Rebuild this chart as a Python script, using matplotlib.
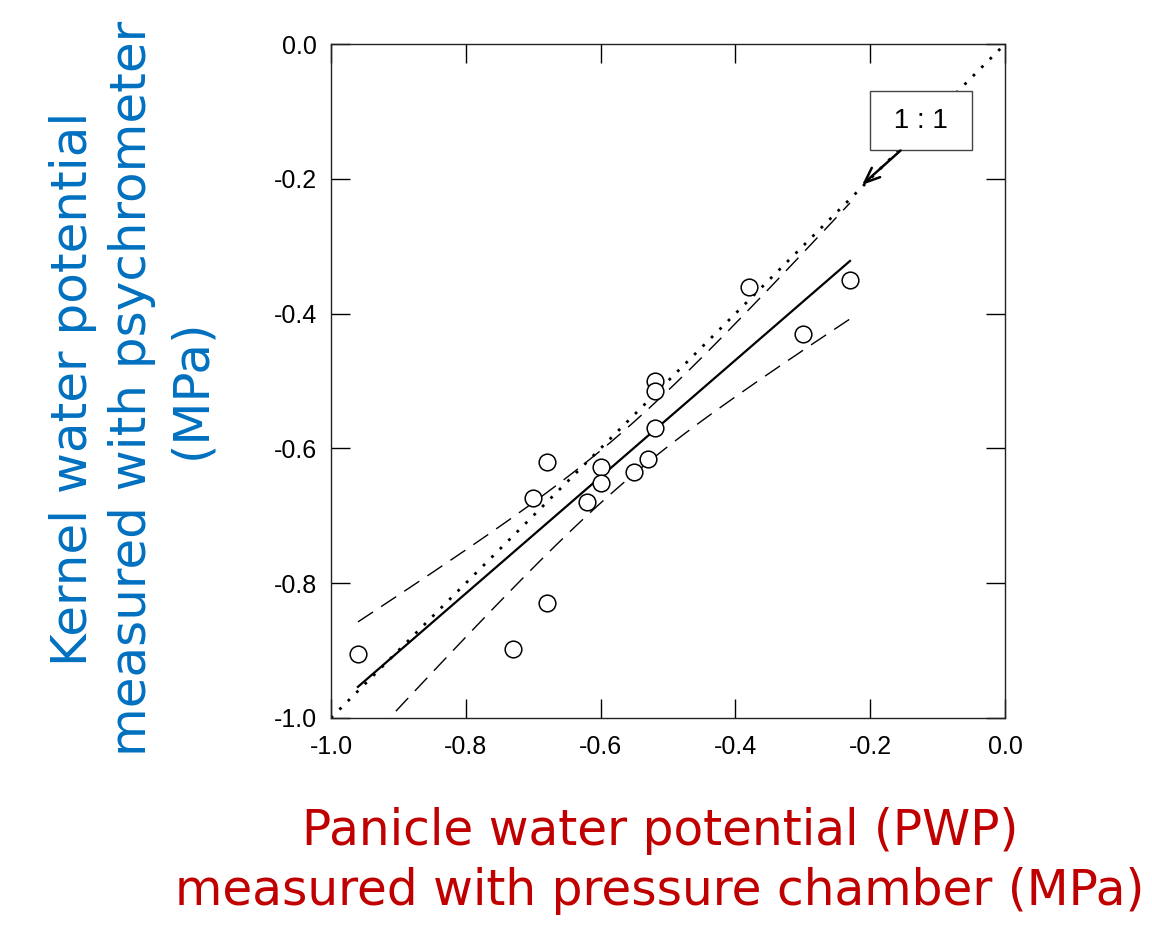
import numpy as np
import matplotlib
matplotlib.use("Agg")
import matplotlib.pyplot as plt

# Data (MPa)
pwp = [-0.96, -0.73, -0.70, -0.68, -0.68, -0.62, -0.60, -0.60, -0.55, -0.53,
       -0.52, -0.52, -0.52, -0.38, -0.30, -0.23]
kwp = [-0.905, -0.897, -0.673, -0.62, -0.83, -0.68, -0.627, -0.652, -0.635, -0.615,
       -0.57, -0.50, -0.515, -0.36, -0.43, -0.35]
ticks = [-1.0, -0.8, -0.6, -0.4, -0.2, 0.0]
tick_labels = ["-1.0", "-0.8", "-0.6", "-0.4", "-0.2", "0.0"]
one_to_one = [-1.0, 0.0]

x = np.array(pwp)
y = np.array(kwp)
n = len(x)
b, a = np.polyfit(x, y, 1)
xs = np.linspace(x.min(), x.max(), 200)
yfit = a + b * xs
resid = y - (a + b * x)
s = np.sqrt(np.sum(resid ** 2) / (n - 2))
t = 2.145
se = s * np.sqrt(1.0 / n + (xs - x.mean()) ** 2 / np.sum((x - x.mean()) ** 2))
upper = yfit + t * se
lower = yfit - t * se

fig = plt.figure(figsize=(11.52, 9.25), dpi=100)
ax = fig.add_axes([0.2873, 0.2238, 0.5851, 0.7286])

ax.plot(one_to_one, one_to_one, linestyle=(0, (1, 3.3)), color="black", lw=2.0)
ax.plot(xs, yfit, color="black", lw=1.6)
ax.plot(xs, upper, color="black", lw=1.0, dashes=(13, 7))
ax.plot(xs, lower, color="black", lw=1.0, dashes=(13, 7))
ax.plot(x, y, "o", mfc="white", mec="black", ms=12, mew=1.1, zorder=5)

ax.set_xlim(-1.0, 0.0)
ax.set_ylim(-1.0, 0.0)
ax.set_xticks(ticks)
ax.set_xticklabels(tick_labels, fontfamily="Liberation Sans")
ax.set_yticks(ticks)
ax.set_yticklabels(tick_labels, fontfamily="Liberation Sans")
ax.tick_params(direction="in", length=13.5, width=1.0, top=True, right=True,
               labelsize=18)
ax.tick_params(axis="y", pad=10)
ax.tick_params(axis="x", pad=12)
for sp in ax.spines.values():
    sp.set_linewidth(1.0)
    sp.set_color("#222222")

# 1:1 label box and arrow
ax.text(-0.125, -0.1135, " 1 : 1 ", ha="center", va="center", fontsize=20,
        fontfamily="Liberation Sans",
        bbox=dict(boxstyle="square,pad=0.58", fc="white", ec="#444444", lw=1.0),
        zorder=6)
ax.annotate("", xy=(-0.212, -0.209), xytext=(-0.155, -0.158),
            arrowprops=dict(arrowstyle="->,head_length=1.1,head_width=0.45",
                            color="black", lw=1.8, shrinkA=0, shrinkB=0),
            zorder=7)

fig.text(0.1145, 0.58, "Kernel water potential\nmeasured with psychrometer\n(MPa)",
         rotation=90, ha="center", va="center", color="#0070C0",
         fontsize=36, linespacing=1.3)
fig.text(0.573, 0.069, "Panicle water potential (PWP)\nmeasured with pressure chamber (MPa)",
         ha="center", va="center", color="#C00000", fontsize=35, linespacing=1.3)

fig.savefig("out.png", dpi=100)
